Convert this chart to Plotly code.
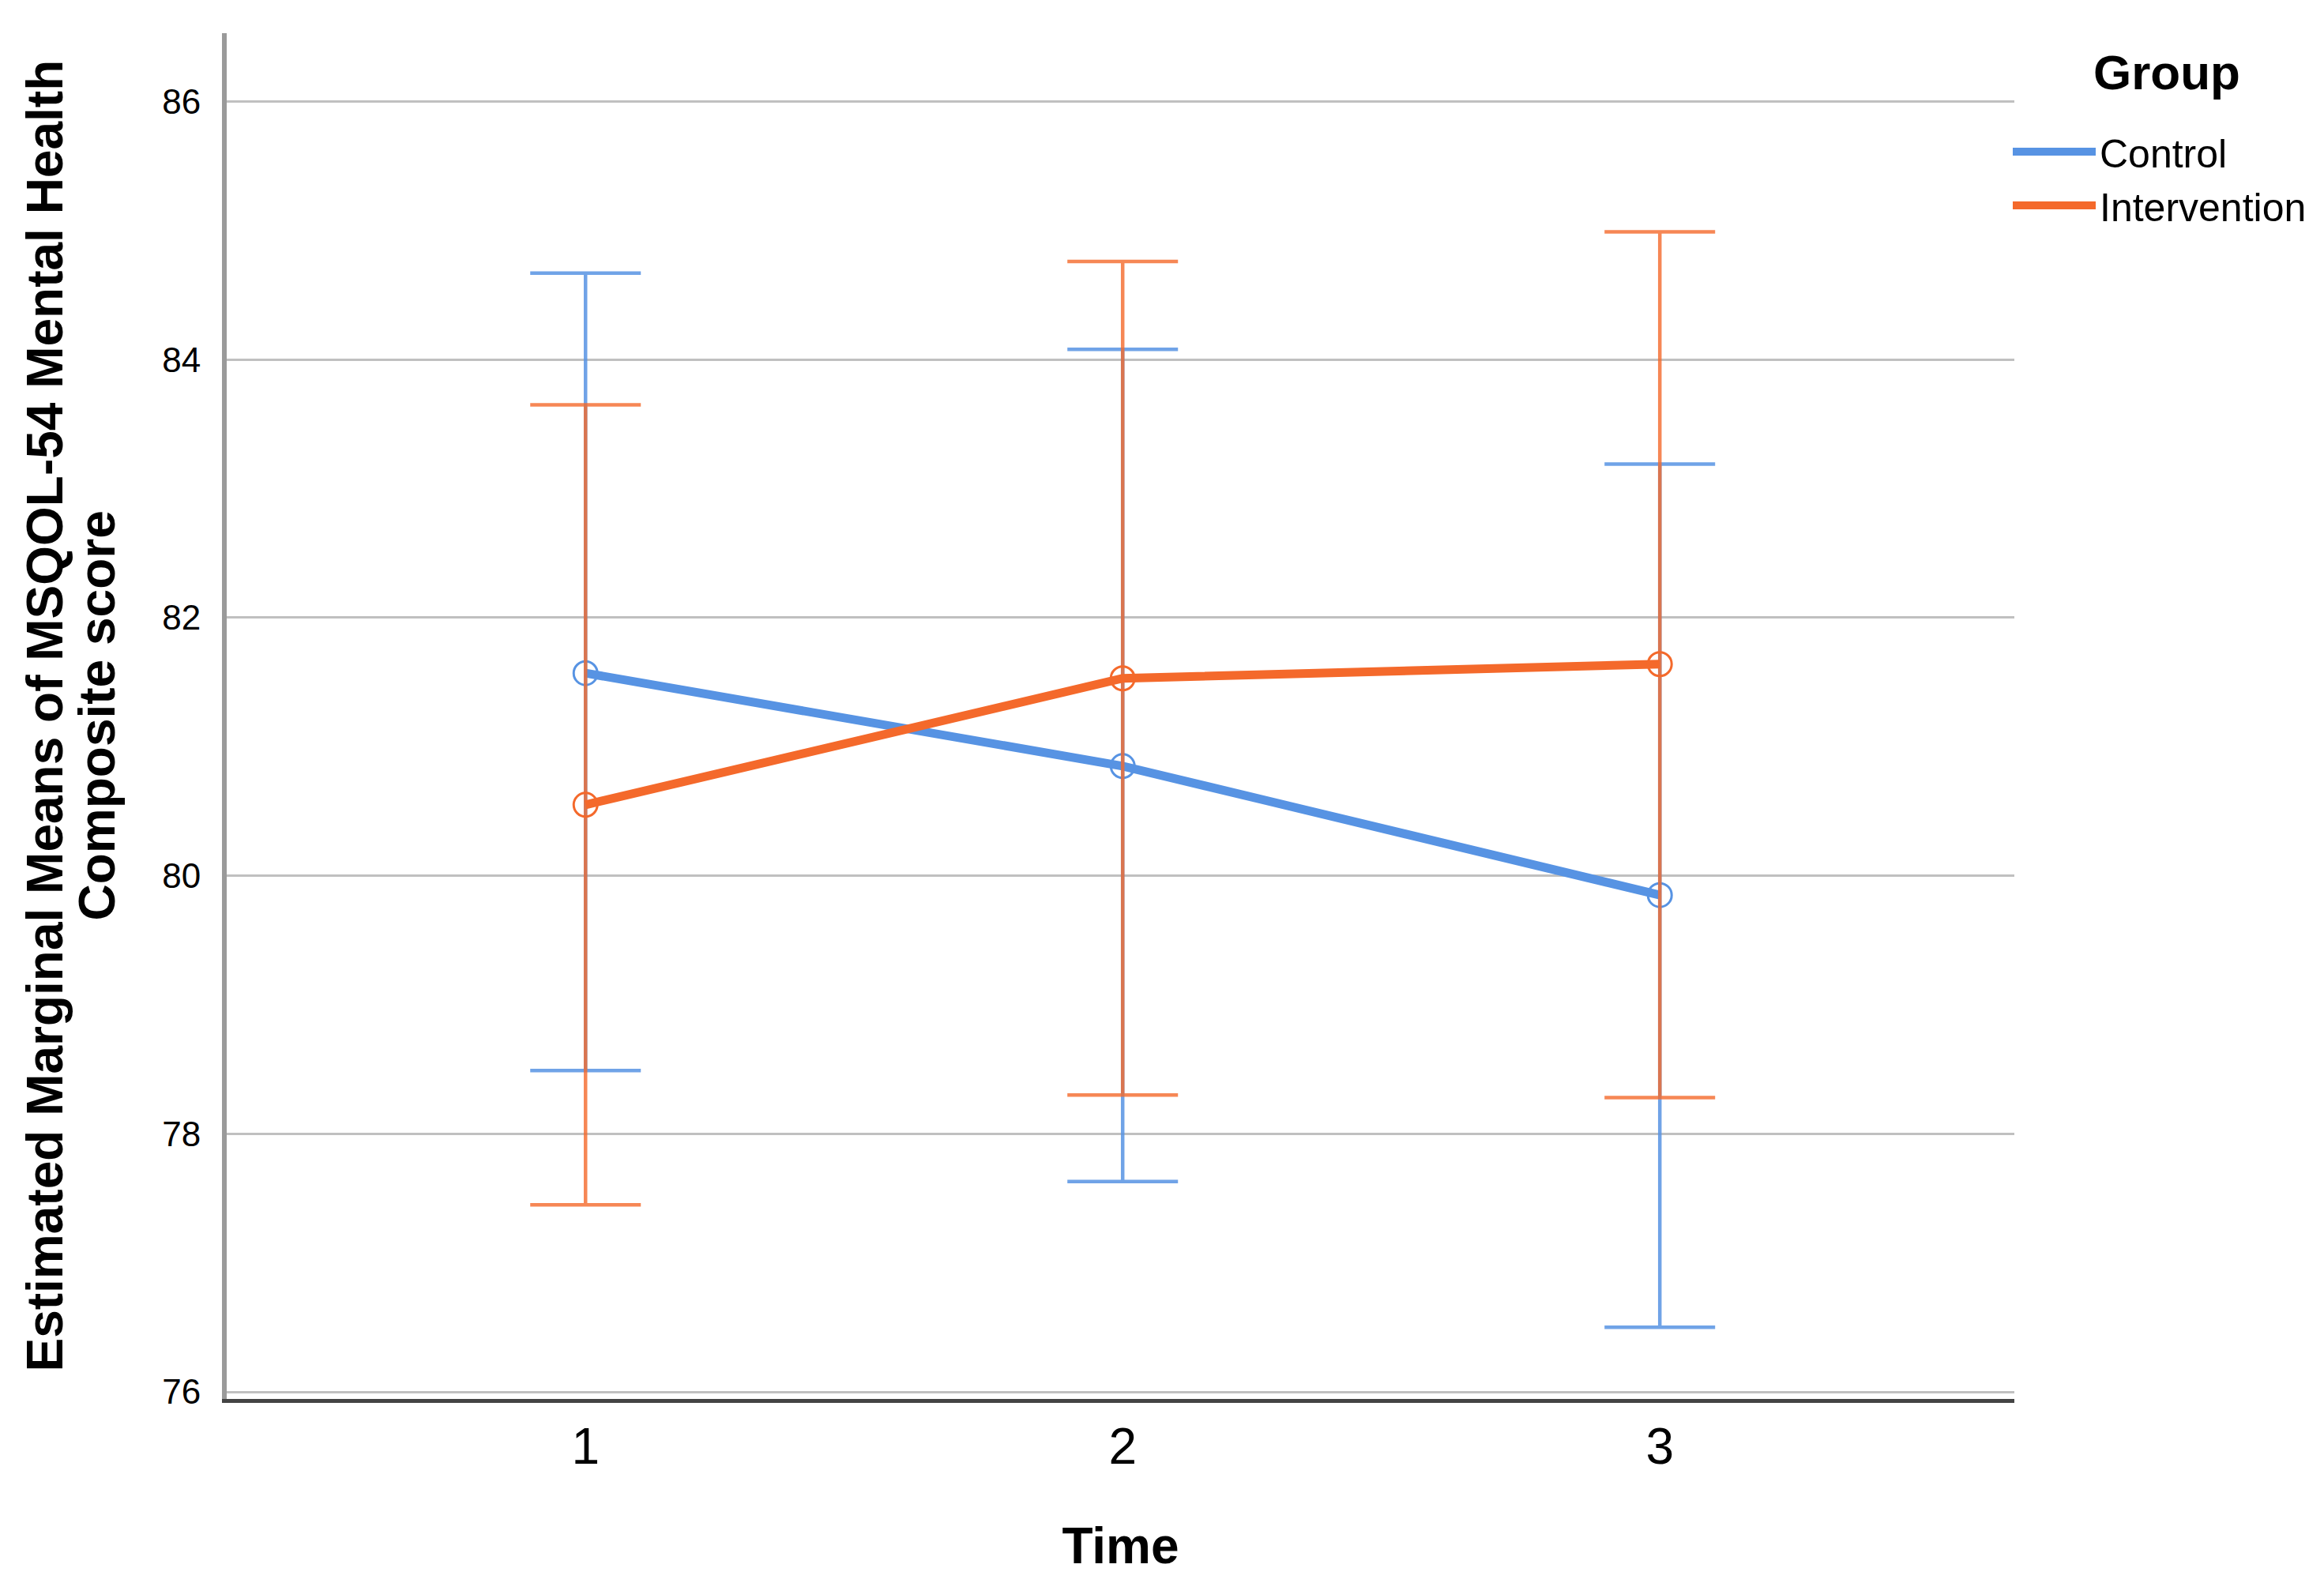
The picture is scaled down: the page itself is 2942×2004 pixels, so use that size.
import plotly.graph_objects as go

time_points = [1, 2, 3]
tick_labels = ["1", "2", "3"]
groups = ["Control", "Intervention"]
control_mean = [81.57, 80.85, 79.85]
control_upper = [84.67, 84.08, 83.19]
control_lower = [78.49, 77.63, 76.50]
intervention_mean = [80.55, 81.53, 81.64]
intervention_upper = [83.65, 84.76, 84.99]
intervention_lower = [77.45, 78.30, 78.28]
y_ticks = [76, 78, 80, 82, 84, 86]

colors = {"Control": "#5793E3", "Intervention": "#F4692B"}
err_colors = {"Control": "rgba(87,147,227,0.85)", "Intervention": "rgba(244,105,43,0.8)"}

series = {
    "Control": (control_mean, control_upper, control_lower),
    "Intervention": (intervention_mean, intervention_upper, intervention_lower),
}

W, H = 2942, 2004
L, R, T, B = 279, 400, 34, 241
PW = W - L - R
PH = H - T - B


def px_x(p):
    return (p - L) / PW


def px_y(p):
    return 1 - (p - T) / PH


fig = go.Figure()
for g in groups:
    m, up, lo = series[g]
    fig.add_trace(go.Scatter(
        x=time_points, y=m, mode="lines+markers", name=g, showlegend=False,
        line=dict(color=colors[g], width=11),
        marker=dict(symbol="circle-open", size=30, color=colors[g], line=dict(width=3)),
        error_y=dict(type="data", symmetric=False,
                     array=[u - v for u, v in zip(up, m)],
                     arrayminus=[v - l for v, l in zip(m, lo)],
                     color=err_colors[g], thickness=4.5, width=70),
    ))
for g in groups:
    fig.add_trace(go.Scatter(
        x=[None], y=[None], mode="lines", name=g,
        line=dict(color=colors[g], width=11),
    ))

title_font = dict(family="Liberation Sans, Arial, sans-serif", size=64, color="black")
fig.update_layout(
    width=W, height=H,
    paper_bgcolor="white", plot_bgcolor="white",
    margin=dict(l=L, r=R, t=T, b=B),
    font=dict(family="Liberation Sans, Arial, sans-serif", color="black"),
    legend=dict(
        font=dict(size=50),
        x=px_x(2535), y=px_y(145), xanchor="left", yanchor="top",
        itemwidth=105, tracegroupgap=0,
    ),
    xaxis=dict(
        range=[0.332, 3.66], tickvals=time_points, ticktext=tick_labels,
        showgrid=False, zeroline=False,
        showline=True, linecolor="#444444", linewidth=5,
        tickfont=dict(size=64), ticklabelstandoff=0,
        title=dict(text="<b>Time</b>", font=dict(size=64), standoff=70),
    ),
    yaxis=dict(
        range=[75.945, 86.53], tickvals=y_ticks,
        showgrid=True, gridcolor="#C0C0C0", gridwidth=3,
        zeroline=False,
        showline=True, linecolor="#9A9A9A", linewidth=6,
        tickfont=dict(size=44), ticklabelstandoff=18,
    ),
    annotations=[
        dict(text="<b>Estimated Marginal Means of MSQOL-54 Mental Health</b>",
             xref="paper", yref="paper", x=px_x(48), y=0.5, textangle=-90,
             xanchor="center", yanchor="middle", showarrow=False, font=title_font),
        dict(text="<b>Composite score</b>",
             xref="paper", yref="paper", x=px_x(114), y=0.5, textangle=-90,
             xanchor="center", yanchor="middle", showarrow=False, font=title_font),
        dict(text="<b>Group</b>",
             xref="paper", yref="paper", x=px_x(2735), y=px_y(84),
             xanchor="center", yanchor="middle", showarrow=False,
             font=dict(family="Liberation Sans, Arial, sans-serif", size=62, color="black")),
    ],
)

fig.write_html("out.html")
